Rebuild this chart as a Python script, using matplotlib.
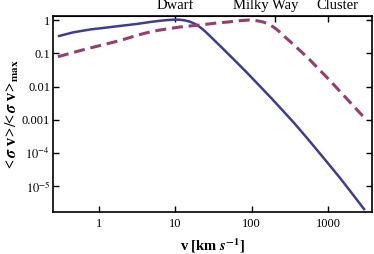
import matplotlib
matplotlib.use("Agg")
import matplotlib.pyplot as plt
import matplotlib.ticker as mticker

plt.rcParams['font.family'] = ['Liberation Serif', 'DejaVu Serif']
plt.rcParams['mathtext.fontset'] = 'stix'

# Blue solid curve (v in km/s, normalised <sigma v>)
blue_v = [0.29, 0.46, 0.79, 1.12, 1.70, 3.09, 5.01, 7.08, 9.33, 11.2, 13.2, 15.5,
          18.2, 20.9, 24.5, 28.2, 33.1, 38.0, 49.0, 63.1, 85.1, 112, 174, 257,
          363, 525, 724, 1000, 1413, 1950, 3020]
blue_y = [0.324, 0.427, 0.525, 0.575, 0.646, 0.759, 0.891, 0.977, 1.023, 1.023,
          0.977, 0.891, 0.759, 0.617, 0.457, 0.335, 0.234, 0.172, 0.0966, 0.0543,
          0.0272, 0.0141, 0.0049, 0.00186, 7.8e-4, 2.9e-4, 1.2e-4, 4.9e-5,
          1.86e-5, 7.2e-6, 1.95e-6]

# Purple dashed curve
purple_v = [0.29, 0.68, 1.86, 3.39, 5.01, 6.31, 11.5, 20.9, 38.0, 49.0, 60.3, 69.2,
            79.4, 93.3, 107, 123, 141, 158, 174, 195, 214, 234, 257, 316, 389,
            550, 708, 1047, 1778, 3020]
purple_y = [0.079, 0.135, 0.240, 0.363, 0.457, 0.501, 0.617, 0.708, 0.832, 0.871,
            0.923, 0.955, 0.977, 1.0, 0.977, 0.933, 0.871, 0.794, 0.708, 0.603,
            0.513, 0.427, 0.347, 0.229, 0.148, 0.0708, 0.0389, 0.0155, 0.00417,
            0.00112]

x_ticks = [1, 10, 100, 1000]
x_ticklabels = ["1", "10", "100", "1000"]
y_ticks = [1e-5, 1e-4, 1e-3, 1e-2, 1e-1, 1]
y_ticklabels = ["$10^{-5}$", "$10^{-4}$", "0.001", "0.01", "0.1", "1"]
top_ticks = [10, 200, 1000]
top_labels = ["Dwarf", "Milky Way", "Cluster"]
top_label_pos = [10, 150, 1330]

fig = plt.figure(figsize=(3.74, 2.54), dpi=100)
ax = fig.add_axes([0.1417, 0.165, 0.853, 0.772])

ax.plot(blue_v, blue_y, color='#3D3D99', lw=1.8, solid_capstyle='butt')
ax.plot(purple_v, purple_y, color='#993D71', lw=2.2, dashes=(3.6, 1.9))

ax.set_xscale('log')
ax.set_yscale('log')
ax.set_xlim(0.25, 3750)
ax.set_ylim(1.7e-6, 1.32)

ax.xaxis.set_major_locator(mticker.FixedLocator(x_ticks))
ax.xaxis.set_major_formatter(mticker.FixedFormatter(x_ticklabels))
ax.xaxis.set_minor_locator(mticker.NullLocator())
ax.yaxis.set_major_locator(mticker.FixedLocator(y_ticks))
ax.yaxis.set_major_formatter(mticker.FixedFormatter(y_ticklabels))
ax.yaxis.set_minor_locator(mticker.NullLocator())

ax.tick_params(axis='both', direction='in', length=4, width=1.0, labelsize=9)
ax.tick_params(axis='x', pad=4)
ax.tick_params(axis='y', pad=2, right=True)

for s in ax.spines.values():
    s.set_linewidth(1.2)

sec = ax.secondary_xaxis('top')
sec.xaxis.set_major_locator(mticker.FixedLocator(top_ticks))
sec.xaxis.set_major_formatter(mticker.NullFormatter())
sec.xaxis.set_minor_locator(mticker.NullLocator())
sec.tick_params(direction='in', length=4, width=1.0)

for pos, lab in zip(top_label_pos, top_labels):
    ax.annotate(lab, xy=(pos, 1.0), xycoords=('data', 'axes fraction'),
                xytext=(0, 3), textcoords='offset points',
                ha='center', va='bottom', fontsize=10.5)

ax.set_xlabel(r"v [km $\mathbfit{s}^{\mathbf{-1}}$]", fontsize=10.5,
              fontweight='bold', labelpad=5)
ax.set_ylabel(r"<$\,\mathbfit{\sigma}$ v$\,$>/<$\,\mathbfit{\sigma}$ v$\,$>$_{\mathbf{max}}$",
              fontsize=11.5, fontweight='bold', labelpad=1)

fig.savefig("out.png", dpi=100)
